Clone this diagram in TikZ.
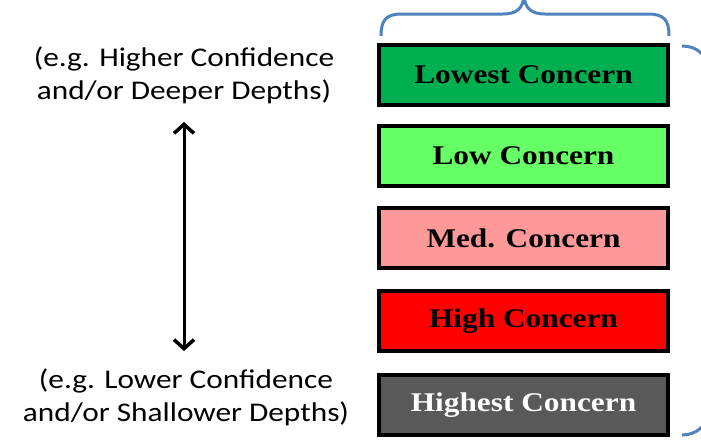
\documentclass[tikz,border=0pt]{standalone}
\usepackage{fontspec}
\usepackage{graphicx}
\setmainfont{Liberation Serif}
\newfontfamily\calib{Carlito}
\usetikzlibrary{arrows.meta}
\definecolor{cLowest}{HTML}{00B050}
\definecolor{cLow}{HTML}{66FF66}
\definecolor{cMed}{HTML}{FF9999}
\definecolor{cHigh}{HTML}{FF0000}
\definecolor{cHighest}{HTML}{595959}
\definecolor{braceblue}{HTML}{4F81BD}
\tikzset{
  levelbox/.style={draw=black, line width=4pt, minimum width=289pt, minimum height=60pt, inner sep=0pt,
    font=\fontsize{27}{30}\selectfont\bfseries},
  sidetext/.style={align=center, font=\calib\fontsize{27}{33}\selectfont, inner sep=0pt},
  bracestyle/.style={draw=braceblue, line width=3pt},
  updown/.style={line width=3pt, {Straight Barb[length=9pt,width=20pt,line width=3.5pt]}-{Straight Barb[length=9pt,width=20pt,line width=3.5pt]}}
}
\newcommand{\wx}[1]{\scalebox{1.16}[1]{#1}}
\begin{document}
\begin{tikzpicture}[x=1pt,y=-1pt]
\useasboundingbox (0,0) rectangle (701,440);
\clip (0,0) rectangle (701,440);
% boxes
\node[levelbox, fill=cLowest] (b1) at (523.5,75) {\wx{Lowest Concern}};
\node[levelbox, fill=cLow] (b2) at (523.5,156) {\wx{Low Concern}};
\node[levelbox, fill=cMed] (b3) at (523.5,238) {\wx{Med. Concern}};
\node[levelbox, fill=cHigh] (b4) at (523.5,321) {\wx{High Concern}};
\node[levelbox, fill=cHighest, text=white] (b5) at (523.5,405) {\wx{Highest Concern}};
% side texts
\node[sidetext] (hi) at (184,75) {\wx{(e.g. Higher Confidence}\\\wx{and/or Deeper Depths)}};
\node[sidetext] (lo) at (186,397) {\wx{(e.g. Lower Confidence}\\\wx{and/or Shallower Depths)}};
% arrow
\coordinate (atop) at (184,122);
\coordinate (abot) at (184,351);
\draw[updown] (atop) -- (abot);
% top brace
\coordinate (tl) at (381,36);
\coordinate (tr) at (669,36);
\coordinate (tt) at (524,-4);
\draw[bracestyle] (tl) .. controls (381,20) and (386,14) .. (402,14) -- (503,14)
  .. controls (517,14) and (523,8) .. (tt)
  (tr) .. controls (669,20) and (664,14) .. (648,14) -- (545,14)
  .. controls (531,14) and (525,8) .. (tt);
% right brace
\coordinate (rt) at (682,46);
\coordinate (rb) at (682,435);
\draw[bracestyle] (rt) .. controls (697,46) and (708,55) .. (708,72) -- (708,410)
  .. controls (708,425) and (697,435) .. (rb);
\end{tikzpicture}
\end{document}
